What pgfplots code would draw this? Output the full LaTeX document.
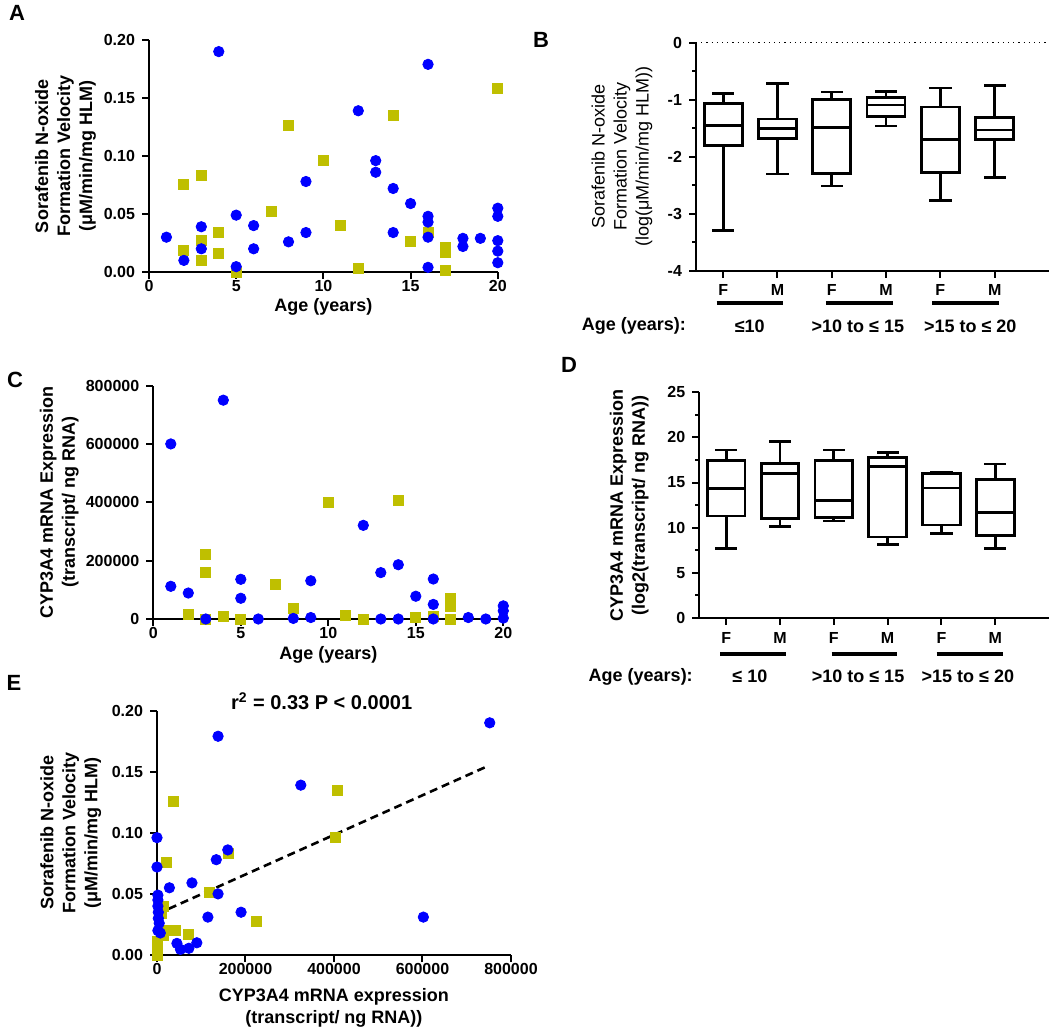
\documentclass[border=0pt]{standalone}
\usepackage{fontspec}
\setmainfont{Liberation Sans}
\usepackage{pgfplots}
\pgfplotsset{compat=1.18}
\definecolor{dotblue}{RGB}{0,0,255}
\definecolor{sqyellow}{RGB}{191,191,0}

\pgfplotsset{
  panel/.style={
    scale only axis, anchor=south west,
    axis lines*=left, axis line style={-, line width=1pt},
    tick align=outside, tick style={line width=1pt, black},
    major tick length=3.5pt, minor tick length=2pt,
    tick label style={font=\fontsize{8}{9.6}\selectfont\bfseries},
    label style={font=\fontsize{9}{11}\selectfont\bfseries, align=center},
    every axis y label/.append style={anchor=center},
    every axis x label/.append style={anchor=center, inner sep=0pt},
    scaled x ticks=false, scaled y ticks=false,
    enlargelimits=false, clip=false,
  },
  scatter panel/.style={panel, xticklabel style={yshift=0.5pt, inner sep=1pt}},
  bluedots/.style={only marks, mark=*, mark size=2.6pt, color=dotblue,
    mark options={fill=dotblue, draw=dotblue}},
  yelsq/.style={only marks, mark=square*, mark size=2.5pt, color=sqyellow,
    mark options={fill=sqyellow, draw=sqyellow}},
  bx/.style={black, line width=1.4pt, solid, no markers, line cap=rect, line join=miter},
}
\newcommand{\grp}{\fontsize{9}{11}\selectfont\bfseries}
% one box: position, lower whisker, lower quartile, median, upper quartile, upper whisker
\newcommand{\boxp}[6]{%
  \pgfmathsetmacro\bL{#1-0.35}\pgfmathsetmacro\bR{#1+0.35}%
  \pgfmathsetmacro\cL{#1-0.18}\pgfmathsetmacro\cR{#1+0.18}%
  \edef\tmp{%
    \noexpand\addplot[bx] coordinates {(\bL,#3)(\bR,#3)(\bR,#5)(\bL,#5)(\bL,#3)};
    \noexpand\addplot[bx] coordinates {(\bL,#4)(\bR,#4)};
    \noexpand\addplot[bx] coordinates {(#1,#5)(#1,#6)};
    \noexpand\addplot[bx] coordinates {(\cL,#6)(\cR,#6)};
    \noexpand\addplot[bx] coordinates {(#1,#3)(#1,#2)};
    \noexpand\addplot[bx] coordinates {(\cL,#2)(\cR,#2)};
  }\tmp}

\begin{document}
\begin{tikzpicture}
\path[use as bounding box] (0,0) rectangle (525pt,-518pt);

%------------- A : velocity vs age -------------
\begin{axis}[scatter panel,
  at={(74.5pt,-136pt)}, width=174.4pt, height=116pt,
  xmin=0, xmax=20, ymin=0, ymax=0.2,
  xtick={0,5,10,15,20}, xticklabels={0,5,10,15,20},
  ytick={0,0.05,0.1,0.15,0.2}, yticklabels={0.00,0.05,0.10,0.15,0.20},
  xlabel={Age (years)}, xlabel style={at={(rel axis cs:0.5,-0.152)}},
  ylabel={Sorafenib N-oxide\\Formation Velocity\\(μM/min/mg HLM)},
  ylabel style={at={(rel axis cs:-0.2395,0.5)}},
]
\addplot[yelsq] coordinates {(2,0.0756)(2,0.019)(3,0.0836)(3,0.027)(3,0.010)(4,0.034)(4,0.016)
  (5,0.000)(7,0.052)(8,0.126)(10,0.096)(11,0.040)(12,0.003)(14,0.135)(15,0.026)(16,0.034)
  (17,0.021)(17,0.017)(17,0.0015)(20,0.158)};
\addplot[bluedots] coordinates {(1,0.030)(2,0.010)(3,0.039)(3,0.020)(4,0.190)(5,0.049)(5,0.0046)
  (6,0.040)(6,0.020)(8,0.026)(9,0.078)(9,0.034)(12,0.139)(13,0.096)(13,0.086)(14,0.072)
  (14,0.034)(15,0.059)(16,0.179)(16,0.048)(16,0.043)(16,0.030)(16,0.004)(18,0.029)(18,0.022)
  (19,0.029)(20,0.055)(20,0.048)(20,0.027)(20,0.018)(20,0.008)};
\end{axis}

%------------- B : log velocity boxplots -------------
\begin{axis}[panel,
  at={(348pt,-135.35pt)}, width=176.5pt, height=114pt,
  xmin=0.5, xmax=7, ymin=-4, ymax=0,
  xtick={1,2,3,4,5,6}, xticklabels={F,M,F,M,F,M},
  ytick={-4,-3,-2,-1,0}, yticklabels={-4,-3,-2,-1,0}, minor y tick num=1,
  ylabel={Sorafenib N-oxide\\Formation Velocity\\(log(μM/min/mg HLM))},
  ylabel style={at={(rel axis cs:-0.2096,0.5)}, font=\fontsize{9}{11}\selectfont},
]
\draw[dotted, line width=0.6pt] (axis cs:0.5,0) -- (axis cs:7,0);
\boxp{1}{-3.30}{-1.807}{-1.45}{-1.064}{-0.889}
\boxp{2}{-2.304}{-1.678}{-1.509}{-1.339}{-0.713}
\boxp{3}{-2.515}{-2.29}{-1.49}{-0.994}{-0.865}
\boxp{4}{-1.462}{-1.298}{-1.094}{-0.965}{-0.854}
\boxp{5}{-2.772}{-2.28}{-1.696}{-1.129}{-0.795}
\boxp{6}{-2.368}{-1.696}{-1.532}{-1.31}{-0.749}
% group underlines and age labels
\draw[line width=2pt] (axis cs:0.88,-4.57) -- (axis cs:2.10,-4.57);
\draw[line width=2pt] (axis cs:2.89,-4.57) -- (axis cs:4.12,-4.57);
\draw[line width=2pt] (axis cs:4.85,-4.57) -- (axis cs:6.08,-4.57);
\node[font=\grp, anchor=east] at (axis cs:0.445,-4.97) {Age (years):};
\node[font=\grp] at (axis cs:1.49,-4.97) {≤10};
\node[font=\grp] at (axis cs:3.48,-4.97) {>10 to ≤ 15};
\node[font=\grp] at (axis cs:5.55,-4.97) {>15 to ≤ 20};
\end{axis}

%------------- C : mRNA vs age -------------
\begin{axis}[scatter panel,
  at={(76.65pt,-309.5pt)}, width=175pt, height=116.7pt,
  xmin=0, xmax=20, ymin=0, ymax=800000,
  xtick={0,5,10,15,20}, xticklabels={0,5,10,15,20},
  ytick={0,200000,400000,600000,800000}, yticklabels={0,200000,400000,600000,800000},
  xlabel={Age (years)}, xlabel style={at={(rel axis cs:0.5,-0.152)}},
  ylabel={CYP3A4 mRNA Expression\\(transcript/ ng RNA)},
  ylabel style={at={(rel axis cs:-0.2686,0.5)}},
]
\addplot[yelsq] coordinates {(2,17000)(3,223000)(3,160000)(3,0)(4,8000)(5,0)(7,119000)(8,37000)
  (10,401000)(11,11000)(12,0)(14,407000)(15,5000)(16,10000)(17,71000)(17,42000)(17,0)};
\addplot[bluedots] coordinates {(1,600000)(1,112000)(2,89000)(3,0)(4,750000)(5,136000)(5,71000)
  (6,0)(8,2000)(9,131000)(9,5000)(12,321000)(13,159000)(13,0)(14,186000)(14,0)(15,78000)
  (16,137000)(16,50000)(16,0)(18,5000)(19,0)(20,45000)(20,28000)(20,3000)};
\end{axis}

%------------- D : log2 mRNA boxplots -------------
\begin{axis}[panel,
  at={(349.65pt,-309pt)}, width=174.9pt, height=112.9pt,
  xmin=0.5, xmax=7, ymin=0, ymax=25,
  xtick={1,2,3,4,5,6}, xticklabels={F,M,F,M,F,M},
  ytick={0,5,10,15,20,25}, yticklabels={0,5,10,15,20,25}, minor y tick num=1,
  ylabel={CYP3A4 mRNA Expression\\(log2(transcript/ ng RNA))},
  ylabel style={at={(rel axis cs:-0.2002,0.5)}},
]
\boxp{1}{7.68}{11.3}{14.36}{17.4}{18.6}
\boxp{2}{10.12}{11.04}{16.03}{17.13}{19.53}
\boxp{3}{10.75}{11.15}{13.0}{17.47}{18.6}
\boxp{4}{8.16}{8.97}{16.77}{17.8}{18.35}
\boxp{5}{9.34}{10.3}{14.4}{15.99}{16.17}
\boxp{6}{7.72}{9.12}{11.67}{15.36}{17.06}
\draw[line width=2pt] (axis cs:0.885,-3.99) -- (axis cs:2.11,-3.99);
\draw[line width=2pt] (axis cs:2.96,-3.99) -- (axis cs:4.18,-3.99);
\draw[line width=2pt] (axis cs:4.91,-3.99) -- (axis cs:6.14,-3.99);
\node[font=\grp, anchor=east] at (axis cs:0.51,-6.5) {Age (years):};
\node[font=\grp] at (axis cs:1.44,-6.5) {≤ 10};
\node[font=\grp] at (axis cs:3.45,-6.5) {>10 to ≤ 15};
\node[font=\grp] at (axis cs:5.49,-6.5) {>15 to ≤ 20};
\end{axis}

%------------- E : velocity vs mRNA -------------
\begin{axis}[scatter panel,
  at={(78.5pt,-477.5pt)}, width=177pt, height=122.2pt,
  xmin=0, xmax=800000, ymin=0, ymax=0.2,
  xtick={0,200000,400000,600000,800000}, xticklabels={0,200000,400000,600000,800000},
  ytick={0,0.05,0.1,0.15,0.2}, yticklabels={0.00,0.05,0.10,0.15,0.20},
  xlabel={CYP3A4 mRNA expression\\(transcript/ ng RNA))},
  xlabel style={at={(rel axis cs:0.5,-0.215)}},
  ylabel={Sorafenib N-oxide\\Formation Velocity\\(μM/min/mg HLM)},
  ylabel style={at={(rel axis cs:-0.2438,0.5)}},
]
\addplot[yelsq] coordinates {(37600,0.1255)(408600,0.135)(404000,0.096)(162000,0.083)(21000,0.0756)
  (118000,0.0516)(13500,0.040)(11000,0.034)(224000,0.0276)(41000,0.020)(19000,0.020)
  (72000,0.0166)(13500,0.016)(0,0.011)(0,0.007)(0,0.003)(0,0.000)};
\addplot[bluedots] coordinates {(752000,0.190)(138000,0.179)(325000,0.139)(0,0.096)(0,0.072)
  (160000,0.086)(134000,0.078)(79000,0.059)(28000,0.055)(138000,0.050)(2000,0.049)(2000,0.045)
  (2000,0.040)(3000,0.035)(3000,0.030)(5000,0.026)(2000,0.020)(7500,0.018)(115000,0.031)
  (190000,0.035)(602000,0.031)(45000,0.0095)(53000,0.0046)(72000,0.0055)(90000,0.010)};
\addplot[black, line width=1.3pt, dash pattern=on 4pt off 2.5pt] coordinates {(0,0.0335)(750000,0.155)};
\node[font=\fontsize{10}{12}\selectfont\bfseries, anchor=base] at (rel axis cs:0.465,1.005)
  {r\textsuperscript{2} = 0.33 P < 0.0001};
\end{axis}

% panel letters
\node[font=\fontsize{11}{13}\selectfont\bfseries] at (8.5pt,-6.5pt) {A};
\node[font=\fontsize{11}{13}\selectfont\bfseries] at (270.5pt,-20pt) {B};
\node[font=\fontsize{11}{13}\selectfont\bfseries] at (7.5pt,-190pt) {C};
\node[font=\fontsize{11}{13}\selectfont\bfseries] at (284.5pt,-182.5pt) {D};
\node[font=\fontsize{11}{13}\selectfont\bfseries] at (7pt,-341.5pt) {E};
\end{tikzpicture}
\end{document}
